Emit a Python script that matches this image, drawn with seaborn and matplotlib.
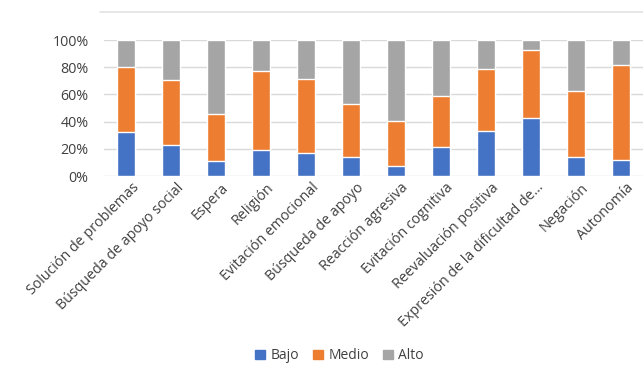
import pandas as pd
import matplotlib.pyplot as plt
import seaborn as sns
from matplotlib.lines import Line2D
from matplotlib.ticker import PercentFormatter
from matplotlib.transforms import ScaledTranslation

categorias = ["Solución de problemas", "Búsqueda de apoyo social", "Espera", "Religión",
              "Evitación emocional", "Búsqueda de apoyo", "Reacción agresiva",
              "Evitación cognitiva", "Reevaluación positiva", "Expresión de la dificultad de...",
              "Negación", "Autonomía"]
bajo = [32.4, 22.8, 11.0, 19.1, 16.9, 14.2, 7.4, 21.1, 33.1, 42.4, 14.0, 12.0]
medio = [47.5, 47.8, 34.6, 58.1, 54.4, 38.5, 33.0, 37.5, 45.6, 50.0, 48.7, 69.9]
alto = [20.1, 29.4, 54.4, 22.8, 28.7, 47.3, 59.6, 41.4, 21.3, 7.6, 37.3, 18.1]
series = ["Bajo", "Medio", "Alto"]
colores = ["#4472C4", "#ED7D31", "#A5A5A5"]

df = pd.DataFrame({"categoria": categorias, "Bajo": bajo, "Medio": medio, "Alto": alto})
df["cum_bajo"] = df["Bajo"]
df["cum_medio"] = df["Bajo"] + df["Medio"]
df["cum_alto"] = df["cum_medio"] + df["Alto"]

sns.set_style("white")
plt.rcParams["font.family"] = ["Open Sans", "DejaVu Sans"]

fig = plt.figure(figsize=(6.43, 3.67), dpi=100)
ax = fig.add_axes([0.1617, 0.5204, 0.8383, 0.3706])

# stacked bars: draw the tallest total first, then overlay the lower sums
for col, color in zip(["cum_alto", "cum_medio", "cum_bajo"], colores[::-1]):
    sns.barplot(data=df, x="categoria", y=col, color=color, width=0.4,
                saturation=1, ax=ax, zorder=3)

ax.set_ylim(0, 100)
ax.set_xlim(-0.5, len(categorias) - 0.5)
ax.yaxis.set_major_formatter(PercentFormatter(decimals=0))
ax.set_yticks([0, 20, 40, 60, 80, 100])
ax.grid(axis="y", color="#D9D9D9", linewidth=1, zorder=0)
for s in ax.spines.values():
    s.set_visible(False)
ax.set_xlabel("")
ax.set_ylabel("")
ax.tick_params(axis="both", length=0, labelsize=10.3, colors="#404040")
ax.tick_params(axis="y", pad=11)
ax.set_xticks(range(len(categorias)))
ax.set_xticklabels(categorias, rotation=45, ha="right", rotation_mode="anchor")
ax.tick_params(axis="x", pad=3)
shift = ScaledTranslation(5 / 100, 0, fig.dpi_scale_trans)
for lbl in ax.get_xticklabels():
    lbl.set_transform(lbl.get_transform() + shift)

fig.add_artist(Line2D([100 / 643, 1.0], [0.966, 0.966], color="#E3E3E3", linewidth=1.2))

handles = [plt.Rectangle((0, 0), 1, 1, color=c) for c in colores]
fig.legend(handles, series, loc="center", bbox_to_anchor=(0.528, 0.03), ncol=3,
           frameon=False, fontsize=10, handlelength=0.7, handleheight=0.7,
           handletextpad=0.4, columnspacing=1.0, labelcolor="#404040")

fig.savefig("out.png", dpi=100)
